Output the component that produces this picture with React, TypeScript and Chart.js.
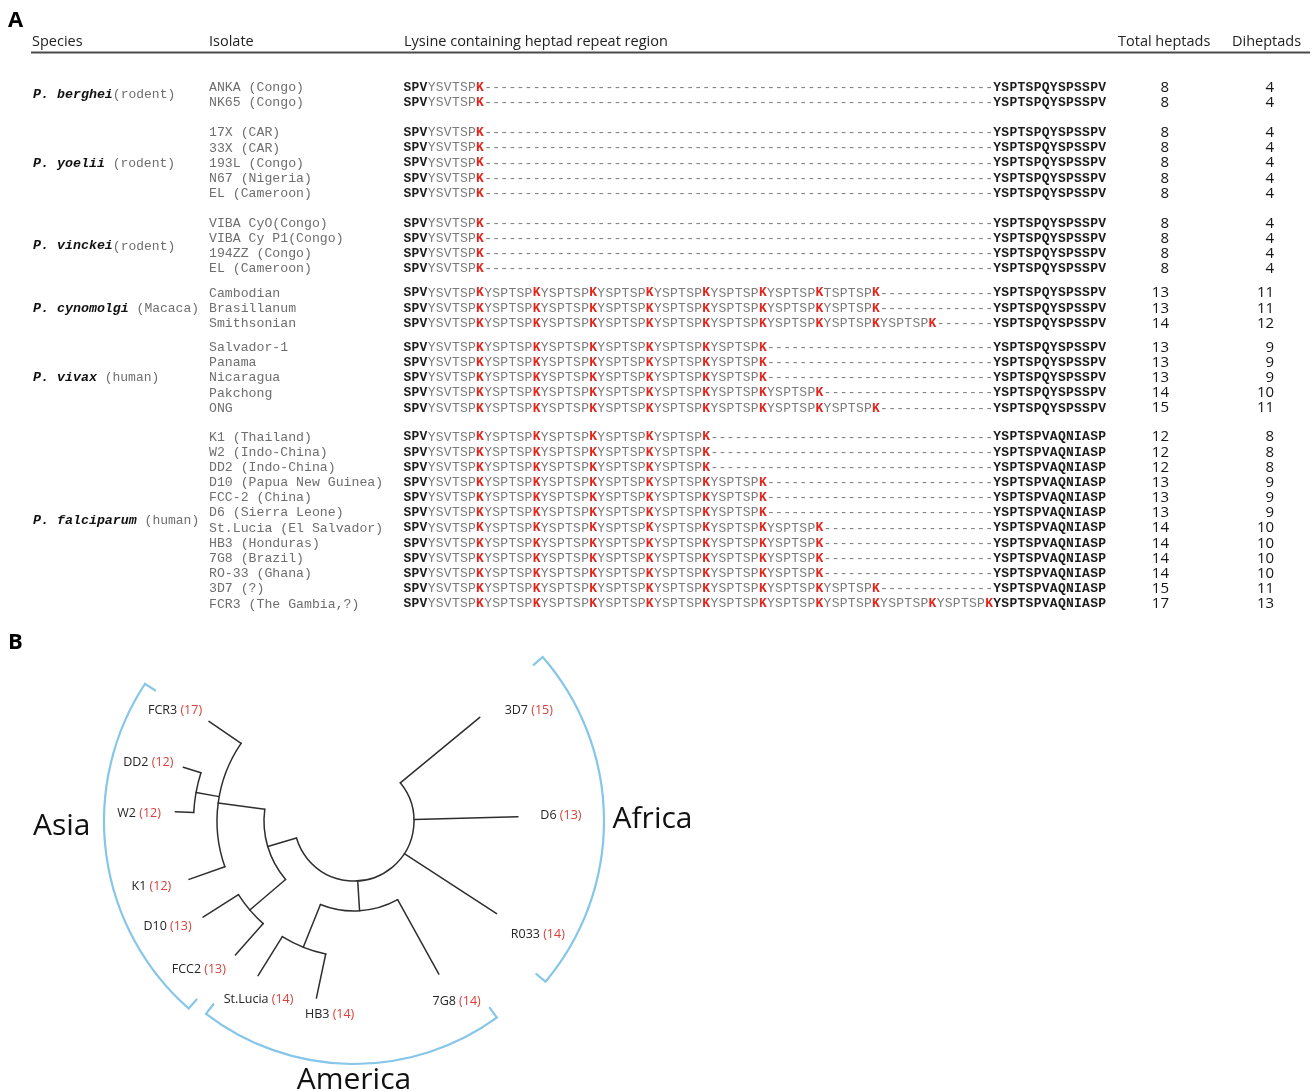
import React, { useEffect, useRef } from "react";
import { Chart, registerables } from "chart.js";

Chart.register(...registerables);

/* ======================= Panel A data ======================= */
const speciesNames = ["P. berghei", "P. yoelii", "P. vinckei", "P. cynomolgi", "P. vivax", "P. falciparum"];
const speciesHosts = ["(rodent)", " (rodent)", "(rodent)", " (Macaca)", " (human)", " (human)"];
const isolatesPerSpecies = [2, 5, 4, 3, 5, 12];
const isolateNames = [
  "ANKA (Congo)", "NK65 (Congo)",
  "17X (CAR)", "33X (CAR)", "193L (Congo)", "N67 (Nigeria)", "EL (Cameroon)",
  "VIBA CyO(Congo)", "VIBA Cy P1(Congo)", "194ZZ (Congo)", "EL (Cameroon)",
  "Cambodian", "Brasillanum", "Smithsonian",
  "Salvador-1", "Panama", "Nicaragua", "Pakchong", "ONG",
  "K1 (Thailand)", "W2 (Indo-China)", "DD2 (Indo-China)", "D10 (Papua New Guinea)", "FCC-2 (China)",
  "D6 (Sierra Leone)", "St.Lucia (El Salvador)", "HB3 (Honduras)", "7G8 (Brazil)", "RO-33 (Ghana)",
  "3D7 (?)", "FCR3 (The Gambia,?)",
];
const lysineHeptads = [1, 1, 1, 1, 1, 1, 1, 1, 1, 1, 1, 8, 8, 9, 6, 6, 6, 7, 8, 5, 5, 5, 6, 6, 6, 7, 7, 7, 7, 8, 10];
const totalHeptads = [8, 8, 8, 8, 8, 8, 8, 8, 8, 8, 8, 13, 13, 14, 13, 13, 13, 14, 15, 12, 12, 12, 13, 13, 13, 14, 14, 14, 14, 15, 17];
const diheptads = [4, 4, 4, 4, 4, 4, 4, 4, 4, 4, 4, 11, 11, 12, 9, 9, 9, 10, 11, 8, 8, 8, 9, 9, 9, 10, 10, 10, 10, 11, 13];
const leadMotif = "SPV";
const firstHeptad = "YSVTSPK";
const repeatHeptad = "YSPTSPK";
const heptadVariants = [{ isolate: "Cambodian", heptad: 8, motif: "TSPTSPK" }];
const tailMotifs = ["YSPTSPQYSPSSPV", "YSPTSPQYSPSSPV", "YSPTSPQYSPSSPV", "YSPTSPQYSPSSPV", "YSPTSPQYSPSSPV", "YSPTSPVAQNIASP"];
const alignedHeptads = 10;
const columnHeaders = ["Species", "Isolate", "Lysine containing heptad repeat region", "Total heptads", "Diheptads"];

/* ======================= Panel B data ======================= */
const leafIsolates = ["FCR3", "DD2", "W2", "K1", "D10", "FCC2", "St.Lucia", "HB3", "7G8", "R033", "D6", "3D7"];
const leafHeptads = [17, 12, 12, 12, 13, 13, 14, 14, 14, 14, 13, 15];
const leafAngles = [214.5, 197.5, 183, 160.5, 147.5, 131.5, 121.8, 102, 61, 33, -1.5, -39.5];
const leafDepths = [176, 179, 179, 175, 179, 179, 182, 181, 175, 170, 164, 163];
const cladeDepths = [60, 90, 137, 160.5, 137, 90, 136];
const cladeChildren = [
  ["c1", "c5", "l9", "l10", "l11"],
  ["c2", "c4"],
  ["l0", "c3", "l3"],
  ["l1", "l2"],
  ["l4", "l5"],
  ["c6", "l8"],
  ["l6", "l7"],
];
const regionNames = ["Asia", "America", "Africa"];
const regionStartAngles = [131.4, 54, -41];
const regionEndAngles = [213.3, 127.5, 40];

/* ======================= Layout (positions / styles) ======================= */
const A_LAYOUT = {
  height: 625,
  xMin: -50.41, xMax: 112.34, yMin: -5.751, yMax: 35.42,
  groupGap: [0, 1.0, 0.96, 0.6, 0.58, 0.9],
  letter: { x: -49.42, y: -4.4 },
  headerY: -2.96, ruleY: -2.29, ruleX0: -46.57, ruleX1: 111.72,
  headerX: [-46.45, -24.54, -0.41, 87.96, 102.07],
  speciesX: -46.32, isolateX: -24.54, totalX: 94.27, diheptadX: 107.27,
};
const B_LAYOUT = {
  top: 625, height: 466,
  xMin: -354, xMax: 961, yMin: -196, yMax: 270,
  letter: { x: -346, y: -178 },
  labelAngles: [211.8, 196, 182, 162, 150.6, 136.2, 118.2, 97.2, 60.4, 31.6, -1.5, -32.4],
  labelRadii: [210.6, 214, 215, 213, 214, 215, 202, 194.5, 207.8, 215.8, 207, 207],
  regionRadii: [250, 243, 250],
  regionLabelAngles: [177.3, 90, 1.3],
  regionLabelRadii: [292.6, 268, 298.6],
  hook: 12,
};
const MONO = "'Liberation Mono', 'Courier New', monospace";
const SANS = "'Open Sans', 'Noto Sans', sans-serif";
const COLORS = { black: "#1c1c1c", grey: "#7a7a7a", isolate: "#6e6e6e", red: "#e2261d", tree: "#2e2e2e", blue: "#86c6e8", labelRed: "#d8403a" };

/* ======================= Panel A derived ======================= */
const rowSpecies: number[] = [];
isolatesPerSpecies.forEach((n, s) => { for (let i = 0; i < n; i++) rowSpecies.push(s); });
const rowPos = rowSpecies.map((s, i) => {
  let g = 0;
  for (let k = 0; k <= s; k++) g += A_LAYOUT.groupGap[k];
  return i + g;
});
const speciesPos = speciesNames.map((_, s) => {
  const ps = rowPos.filter((_, i) => rowSpecies[i] === s);
  return (Math.min(...ps) + Math.max(...ps)) / 2;
});

type Residue = { ch: string; kind: "lead" | "heptad" | "lys" | "gap" | "tail" };
const rowResidues: Residue[][] = isolateNames.map((iso, i) => {
  const out: Residue[] = [];
  for (const c of leadMotif) out.push({ ch: c, kind: "lead" });
  for (let h = 1; h <= lysineHeptads[i]; h++) {
    let motif = h === 1 ? firstHeptad : repeatHeptad;
    const v = heptadVariants.find((d) => d.isolate === iso && d.heptad === h);
    if (v) motif = v.motif;
    for (const c of motif) out.push({ ch: c, kind: c === "K" ? "lys" : "heptad" });
  }
  const filled = lysineHeptads[i] * 7;
  for (let k = filled; k < alignedHeptads * 7; k++) out.push({ ch: "-", kind: "gap" });
  for (const c of tailMotifs[rowSpecies[i]]) out.push({ ch: c, kind: "tail" });
  return out;
});
const residuePoints: { x: number; y: number }[] = [];
const residueList: Residue[] = [];
rowResidues.forEach((res, i) => res.forEach((r, k) => { residuePoints.push({ x: k, y: rowPos[i] }); residueList.push(r); }));

const tablePlugin = {
  id: "tableText",
  afterDatasetsDraw(chart: any) {
    const { ctx } = chart;
    const xs = chart.scales.x, ys = chart.scales.y;
    const px = (v: number) => xs.getPixelForValue(v);
    const py = (v: number) => ys.getPixelForValue(v);
    ctx.save();
    ctx.textBaseline = "middle";
    ctx.fillStyle = "#000";
    ctx.font = `bold 22px ${SANS}`;
    ctx.textAlign = "left";
    ctx.fillText("A", px(A_LAYOUT.letter.x), py(A_LAYOUT.letter.y));
    ctx.font = `14.5px ${SANS}`;
    ctx.fillStyle = "#222";
    columnHeaders.forEach((h, k) => ctx.fillText(h, px(A_LAYOUT.headerX[k]), py(A_LAYOUT.headerY)));
    ctx.strokeStyle = "#4a4a4a";
    ctx.lineWidth = 2;
    ctx.beginPath();
    ctx.moveTo(px(A_LAYOUT.ruleX0), py(A_LAYOUT.ruleY));
    ctx.lineTo(px(A_LAYOUT.ruleX1), py(A_LAYOUT.ruleY));
    ctx.stroke();
    speciesNames.forEach((name, s) => {
      const x0 = px(A_LAYOUT.speciesX), y0 = py(speciesPos[s]);
      ctx.font = `italic bold 13.3px ${MONO}`;
      ctx.fillStyle = "#111";
      ctx.fillText(name, x0, y0);
      const w = ctx.measureText(name).width;
      ctx.font = `13px ${MONO}`;
      ctx.fillStyle = COLORS.isolate;
      ctx.fillText(speciesHosts[s], x0 + w, y0);
    });
    ctx.font = `13.2px ${MONO}`;
    ctx.fillStyle = COLORS.isolate;
    isolateNames.forEach((iso, i) => ctx.fillText(iso, px(A_LAYOUT.isolateX), py(rowPos[i])));
    ctx.textAlign = "center";
    const meta = chart.getDatasetMeta(2);
    meta.data.forEach((el: any, k: number) => {
      const r = residueList[k];
      if (r.kind === "lead" || r.kind === "tail") { ctx.font = `bold 13px ${MONO}`; ctx.fillStyle = COLORS.black; }
      else if (r.kind === "lys") { ctx.font = `bold 13px ${MONO}`; ctx.fillStyle = COLORS.red; }
      else { ctx.font = `13px ${MONO}`; ctx.fillStyle = COLORS.grey; }
      ctx.fillText(r.ch, el.x, el.y);
    });
    ctx.textAlign = "right";
    ctx.font = `15px ${SANS}`;
    ctx.fillStyle = "#151515";
    [0, 1].forEach((d) => {
      const vals = d === 0 ? totalHeptads : diheptads;
      chart.getDatasetMeta(d).data.forEach((el: any, i: number) => ctx.fillText(String(vals[i]), el.x, el.y));
    });
    ctx.restore();
  },
};

/* ======================= Panel B derived ======================= */
const rad = (a: number) => (a * Math.PI) / 180;
const polar = (r: number, a: number) => ({ x: r * Math.cos(rad(a)), y: r * Math.sin(rad(a)) });
function nodeAngle(id: string): number {
  const idx = Number(id.slice(1));
  if (id[0] === "l") return leafAngles[idx];
  const as = cladeChildren[idx].map(nodeAngle);
  return (Math.min(...as) + Math.max(...as)) / 2;
}
function nodeDepth(id: string): number {
  const idx = Number(id.slice(1));
  return id[0] === "l" ? leafDepths[idx] : cladeDepths[idx];
}
const branchSegments: { a: number; r0: number; r1: number }[] = [];
const cladeArcs: { r: number; a0: number; a1: number }[] = [];
cladeChildren.forEach((kids, ci) => {
  const as = kids.map(nodeAngle);
  cladeArcs.push({ r: cladeDepths[ci], a0: Math.min(...as), a1: Math.max(...as) });
  kids.forEach((k, j) => branchSegments.push({ a: as[j], r0: cladeDepths[ci], r1: nodeDepth(k) }));
});

const treePlugin = {
  id: "treeExtras",
  beforeDatasetsDraw(chart: any) {
    const { ctx } = chart;
    const xs = chart.scales.x, ys = chart.scales.y;
    const cx = xs.getPixelForValue(0), cy = ys.getPixelForValue(0);
    const unit = xs.getPixelForValue(1) - cx;
    ctx.save();
    ctx.lineCap = "round";
    ctx.strokeStyle = COLORS.tree;
    ctx.lineWidth = 1.5;
    cladeArcs.forEach((c) => {
      ctx.beginPath();
      ctx.arc(cx, cy, c.r * unit, rad(c.a0), rad(c.a1), false);
      ctx.stroke();
    });
    ctx.strokeStyle = COLORS.blue;
    ctx.lineWidth = 2.2;
    regionNames.forEach((_, k) => {
      const R = B_LAYOUT.regionRadii[k];
      const a0 = regionStartAngles[k], a1 = regionEndAngles[k];
      const p = (r: number, a: number) => {
        const q = polar(r, a);
        return [xs.getPixelForValue(q.x), ys.getPixelForValue(q.y)];
      };
      ctx.beginPath();
      const s0 = p(R - B_LAYOUT.hook, a0);
      ctx.moveTo(s0[0], s0[1]);
      ctx.arc(cx, cy, R * unit, rad(a0), rad(a1), false);
      const s1 = p(R - B_LAYOUT.hook, a1);
      ctx.lineTo(s1[0], s1[1]);
      ctx.stroke();
    });
    ctx.restore();
  },
  afterDatasetsDraw(chart: any) {
    const { ctx } = chart;
    const xs = chart.scales.x, ys = chart.scales.y;
    ctx.save();
    ctx.textBaseline = "middle";
    ctx.textAlign = "left";
    ctx.fillStyle = "#000";
    ctx.font = `bold 22px ${SANS}`;
    ctx.fillText("B", xs.getPixelForValue(B_LAYOUT.letter.x), ys.getPixelForValue(B_LAYOUT.letter.y));
    ctx.font = `12.5px ${SANS}`;
    leafIsolates.forEach((name, i) => {
      const q = polar(B_LAYOUT.labelRadii[i], B_LAYOUT.labelAngles[i]);
      const x = xs.getPixelForValue(q.x), y = ys.getPixelForValue(q.y);
      const a = name + " ";
      const b = `(${leafHeptads[i]})`;
      const wa = ctx.measureText(a).width, wb = ctx.measureText(b).width;
      const x0 = x - (wa + wb) / 2;
      ctx.fillStyle = "#262626";
      ctx.fillText(a, x0, y);
      ctx.fillStyle = COLORS.labelRed;
      ctx.fillText(b, x0 + wa, y);
    });
    ctx.textBaseline = "alphabetic";
    ctx.textAlign = "center";
    ctx.font = `30px ${SANS}`;
    ctx.fillStyle = "#111";
    regionNames.forEach((n, k) => {
      const q = polar(B_LAYOUT.regionLabelRadii[k], B_LAYOUT.regionLabelAngles[k]);
      ctx.fillText(n, xs.getPixelForValue(q.x), ys.getPixelForValue(q.y));
    });
    ctx.restore();
  },
};

const hiddenAxis = (min: number, max: number, reverse = false) => ({
  type: "linear" as const, min, max, reverse, display: false,
  grid: { display: false }, ticks: { display: false },
});

export default function App() {
  const refA = useRef<HTMLCanvasElement>(null);
  const refB = useRef<HTMLCanvasElement>(null);

  useEffect(() => {
    const chartA = new Chart(refA.current as HTMLCanvasElement, {
      type: "scatter",
      data: {
        datasets: [
          { label: "Total heptads", data: rowPos.map((y) => ({ x: A_LAYOUT.totalX, y })), pointRadius: 0 },
          { label: "Diheptads", data: rowPos.map((y) => ({ x: A_LAYOUT.diheptadX, y })), pointRadius: 0 },
          { label: "Residues", data: residuePoints, pointRadius: 0 },
        ],
      },
      options: {
        animation: false,
        responsive: false,
        devicePixelRatio: 1,
        events: [],
        layout: { padding: 0 },
        plugins: { legend: { display: false }, tooltip: { enabled: false }, title: { display: false } },
        scales: {
          x: hiddenAxis(A_LAYOUT.xMin, A_LAYOUT.xMax),
          y: hiddenAxis(A_LAYOUT.yMin, A_LAYOUT.yMax, true),
        },
      },
      plugins: [tablePlugin],
    } as any);

    const chartB = new Chart(refB.current as HTMLCanvasElement, {
      type: "scatter",
      data: {
        datasets: branchSegments.map((s, i) => ({
          label: `branch ${i}`,
          data: [polar(s.r0, s.a), polar(s.r1, s.a)],
          showLine: true,
          borderColor: COLORS.tree,
          borderWidth: 1.5,
          pointRadius: 0,
          borderCapStyle: "round",
        })),
      },
      options: {
        animation: false,
        responsive: false,
        devicePixelRatio: 1,
        events: [],
        layout: { padding: 0 },
        plugins: { legend: { display: false }, tooltip: { enabled: false }, title: { display: false } },
        scales: {
          x: hiddenAxis(B_LAYOUT.xMin, B_LAYOUT.xMax),
          y: hiddenAxis(B_LAYOUT.yMin, B_LAYOUT.yMax, true),
        },
      },
      plugins: [treePlugin],
    } as any);

    return () => {
      chartA.destroy();
      chartB.destroy();
    };
  }, []);

  return (
    <div style={{ position: "absolute", left: 0, top: 0, width: 1315, height: 1091, background: "#fff", overflow: "hidden" }}>
      <canvas ref={refA} width={1315} height={A_LAYOUT.height} style={{ position: "absolute", left: 0, top: 0, display: "block" }} />
      <canvas ref={refB} width={1315} height={B_LAYOUT.height} style={{ position: "absolute", left: 0, top: B_LAYOUT.top, display: "block" }} />
    </div>
  );
}
